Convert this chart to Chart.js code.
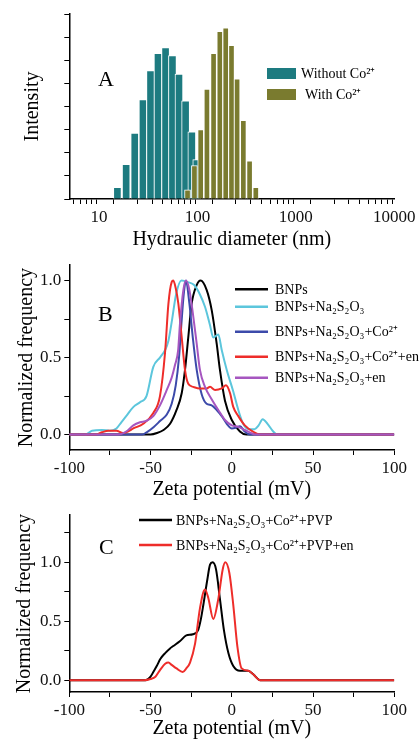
<!DOCTYPE html>
<html><head><meta charset="utf-8">
<script src="https://cdn.jsdelivr.net/npm/chart.js@4.4.1/dist/chart.umd.min.js"></script>
<style>
html,body{margin:0;padding:0;background:#fff;}
body{width:419px;height:741px;position:relative;overflow:hidden;}
canvas{position:absolute;left:0;}
</style></head><body>
<canvas id="cA" width="419" height="252" style="top:0px;width:419px;height:252px"></canvas>
<canvas id="cB" width="419" height="250" style="top:252px;width:419px;height:250px"></canvas>
<canvas id="cC" width="419" height="239" style="top:502px;width:419px;height:239px"></canvas>
<script>
// ---------- Panel A: DLS hydraulic diameter histograms ----------
const diamWithout = [15.4, 18.9, 23.1, 28.0, 33.4, 39.8, 47.5, 55.8, 65.0, 75.9, 87.8, 98.5];
const intensityWithout = [1.0, 3.0, 5.7, 8.6, 11.1, 12.6, 13.1, 12.4, 10.8, 8.5, 5.8, 3.4];
const diamWith = [79.4, 93.3, 108, 125, 146, 169, 194, 222, 253, 293, 339, 392];
const intensityWith = [0.8, 2.9, 6.0, 9.5, 12.6, 14.5, 14.8, 13.3, 10.4, 6.8, 3.3, 1.0];
const diamMajorTicks = [10, 100, 1000, 10000];
const diamMinorStart = [5, 6, 7, 8, 9];

// ---------- Panel B: zeta potential ----------
const bnpsX = [-100, -50, -46, -42, -38, -34, -30.8, -28.8, -26.8, -24.7, -21.6, -19.2, -15.5, -12.4, -9.3, -7.3, -4.2, 0, 5, 9, 100];
const bnpsY = [0, 0, 0.01, 0.03, 0.07, 0.16, 0.27, 0.42, 0.63, 0.85, 0.97, 1.0, 0.94, 0.81, 0.59, 0.42, 0.22, 0.095, 0.02, 0, 0];

const thioX = [-100, -90, -86, -80, -75, -71, -68, -65, -60.5, -56.5, -52.5, -48.3, -44.2, -41, -39, -37, -34.3, -31, -27, -23, -19.6, -16.5, -13.4, -11.4, -8.3, -6.2, -3.1, 0.9, 4, 7, 10.5, 14, 16.5, 19, 22, 25.5, 28, 100];
const thioY = [0, 0, 0.025, 0.03, 0.025, 0.04, 0.08, 0.12, 0.18, 0.21, 0.25, 0.44, 0.50, 0.55, 0.61, 0.73, 0.91, 1.0, 0.99, 0.97, 0.91, 0.83, 0.71, 0.63, 0.65, 0.55, 0.42, 0.28, 0.16, 0.07, 0.035, 0.035, 0.06, 0.10, 0.07, 0.02, 0, 0];

const coX = [-100, -55, -52.4, -48, -44, -40, -37, -34.5, -32.5, -31, -29.5, -28.2, -26.1, -24, -21.6, -18.5, -15.5, -12.4, -9.3, -6.2, -3.1, 0, 2.5, 5, 8, 11, 100];
const coY = [0, 0, 0.015, 0.05, 0.09, 0.13, 0.2, 0.32, 0.5, 0.72, 0.92, 1.0, 0.85, 0.63, 0.42, 0.26, 0.20, 0.19, 0.16, 0.12, 0.07, 0.04, 0.045, 0.055, 0.02, 0, 0];

const coEnX = [-100, -84, -80, -76, -71, -67, -64, -60.6, -54.5, -48.3, -44.2, -41.1, -39, -37, -36, -34.5, -32.9, -30.8, -28.8, -26.8, -23.7, -19.6, -15.5, -13.4, -10.3, -6.2, -3.6, -1.1, 0.9, 4, 8, 13, 17.5, 100];
const coEnY = [0, 0, 0.015, 0.025, 0.025, 0.01, 0.02, 0.04, 0.07, 0.14, 0.25, 0.53, 0.85, 0.99, 1.0, 0.95, 0.85, 0.63, 0.42, 0.33, 0.31, 0.30, 0.30, 0.31, 0.29, 0.30, 0.32, 0.27, 0.18, 0.12, 0.06, 0.02, 0, 0];

const enX = [-100, -70, -65, -60.6, -56.5, -52.4, -48.3, -44.2, -40, -37, -35, -33, -31.9, -29.8, -28.2, -26.1, -24, -21.6, -19.6, -16.5, -12.4, -8.3, -4.2, 0, 4, 8, 12, 14, 100];
const enY = [0, 0, 0.02, 0.06, 0.08, 0.09, 0.12, 0.19, 0.29, 0.37, 0.45, 0.55, 0.72, 0.94, 1.0, 0.94, 0.79, 0.59, 0.42, 0.31, 0.23, 0.16, 0.095, 0.06, 0.05, 0.03, 0.01, 0, 0];

// ---------- Panel C ----------
const pvpX = [-100, -53, -50, -48.3, -46.2, -44, -41, -38, -36, -32, -28, -24, -20.6, -19, -17.5, -15.1, -13.4, -11.8, -9.7, -7.3, -4.8, -2.1, 0.9, 5, 10, 13.2, 17.5, 100];
const pvpY = [0, 0, 0.03, 0.07, 0.12, 0.18, 0.23, 0.27, 0.29, 0.33, 0.38, 0.39, 0.43, 0.52, 0.64, 0.85, 0.98, 1.0, 0.94, 0.69, 0.42, 0.23, 0.12, 0.08, 0.08, 0.05, 0, 0];

const pvpEnX = [-100, -54, -50, -47, -44, -41, -39, -37, -34, -30.2, -28, -25.7, -22.6, -19.6, -16.5, -14.5, -11.4, -8.3, -5.6, -4, -1.5, 0.9, 3.4, 6.1, 10.2, 13.2, 17.4, 100];
const pvpEnY = [0, 0, 0.01, 0.03, 0.09, 0.14, 0.15, 0.13, 0.10, 0.07, 0.10, 0.15, 0.31, 0.61, 0.77, 0.70, 0.52, 0.69, 0.94, 1.0, 0.91, 0.64, 0.29, 0.10, 0.08, 0.05, 0, 0];

const zetaLabelTicks = [-100, -50, 0, 50, 100];

// ---------- shared setup ----------
const SERIF = '"Liberation Serif", "Times New Roman", serif';
Chart.defaults.font.family = SERIF;
Chart.defaults.color = '#111';
Chart.defaults.animation = false;

const pts = (xs, ys) => xs.map((x, i) => ({x: x, y: ys[i]}));

const annot = {
  id: 'annot',
  afterDraw(chart, args, o) {
    const ctx = chart.ctx;
    ctx.save();
    ctx.fillStyle = '#000';
    ctx.textAlign = 'left';
    ctx.textBaseline = 'middle';
    ctx.font = '22px ' + SERIF;
    ctx.fillText(o.letter, o.letterX, o.letterY);
    ctx.font = '14px ' + SERIF;
    o.items.forEach(it => {
      const ds = chart.data.datasets[it.ds];
      if (o.kind === 'box') {
        ctx.fillStyle = ds.backgroundColor;
        ctx.fillRect(o.x, it.y - 5.5, o.w, 11);
      } else {
        ctx.strokeStyle = ds.borderColor;
        ctx.lineWidth = 2.5;
        ctx.beginPath();
        ctx.moveTo(o.x, it.y);
        ctx.lineTo(o.x + o.w, it.y);
        ctx.stroke();
      }
      ctx.fillStyle = '#000';
      ctx.fillText(ds.label, it.tx, it.y + 1);
    });
    ctx.restore();
  }
};

function axisGrid() {
  return { drawOnChartArea: false, drawTicks: true, tickLength: 5, color: '#000', lineWidth: 1 };
}
function axisBorder() { return { display: true, color: '#000', width: 1.5 }; }
function titleOpt(text, pad) {
  return { display: true, text: text, color: '#000', font: { size: 20, family: SERIF }, padding: { top: pad, bottom: 0 } };
}

// ---------- Chart A ----------
const logTicks = [];
diamMinorStart.forEach(v => logTicks.push(v));
[10, 100, 1000].forEach(p => { for (let k = 1; k <= 9; k++) logTicks.push(k * p); });
logTicks.push(10000);

new Chart(document.getElementById('cA'), {
  type: 'bar',
  data: {
    datasets: [
      { label: 'Without Co²⁺', data: pts(diamWithout, intensityWithout), backgroundColor: '#1d7b80',
        borderColor: '#ffffff', borderWidth: 1, barThickness: 8, order: 2 },
      { label: 'With Co²⁺', data: pts(diamWith, intensityWith), backgroundColor: '#7a7b2f',
        borderColor: '#ffffff', borderWidth: 1, barThickness: 6, order: 1 }
    ]
  },
  options: {
    responsive: false, devicePixelRatio: 1,
    layout: { padding: { top: 14, right: 24.7, left: 0, bottom: 0 } },
    datasets: { bar: { grouped: false } },
    plugins: {
      legend: { display: false }, tooltip: { enabled: false },
      annot: { letter: 'A', letterX: 98, letterY: 80, kind: 'box', x: 267, w: 29,
        items: [ { ds: 0, y: 73.5, tx: 301 }, { ds: 1, y: 94.5, tx: 305 } ] }
    },
    scales: {
      x: {
        type: 'logarithmic', min: 5, max: 10000,
        afterBuildTicks: s => { s.ticks = logTicks.map(v => ({ value: v })); },
        ticks: { autoSkip: false, maxRotation: 0, padding: 3, color: '#111', font: { size: 17 },
          callback: v => diamMajorTicks.includes(v) ? String(v) : '' },
        grid: axisGrid(), border: axisBorder(),
        title: titleOpt('Hydraulic diameter (nm)', 0),
        afterFit: s => { s.height = 53; }
      },
      y: {
        min: 0, max: 16,
        ticks: { stepSize: 1, callback: () => '' },
        grid: axisGrid(), border: axisBorder(),
        title: titleOpt('Intensity', 21),
        afterFit: s => { s.width = 69.3; }
      }
    }
  },
  plugins: [annot]
});

// ---------- Line chart factory ----------
function zetaChart(id, datasets, yMax, yTicks, padTop, xHeight, yTitlePad, annotOpts) {
  return new Chart(document.getElementById(id), {
    type: 'line',
    data: { datasets: datasets.map((d, i) => ({
      label: d.label, data: pts(d.xs, d.ys), borderColor: d.color, backgroundColor: d.color,
      borderWidth: 2, pointRadius: 0, fill: false, cubicInterpolationMode: 'monotone',
      order: datasets.length - i })) },
    options: {
      responsive: false, devicePixelRatio: 1,
      layout: { padding: { top: padTop, right: 24.7, left: 0, bottom: 0 } },
      plugins: { legend: { display: false }, tooltip: { enabled: false }, annot: annotOpts },
      scales: {
        x: {
          type: 'linear', min: -100, max: 100,
          ticks: { stepSize: 25, autoSkip: false, maxRotation: 0, padding: 3, color: '#111', font: { size: 17 },
            callback: v => zetaLabelTicks.includes(v) ? String(v) : '' },
          grid: axisGrid(), border: axisBorder(),
          title: titleOpt('Zeta potential (mV)', 0),
          afterFit: s => { s.height = xHeight; }
        },
        y: {
          min: -0.1, max: yMax,
          afterBuildTicks: s => { s.ticks = yTicks.map(v => ({ value: v })); },
          ticks: { autoSkip: false, padding: 3, color: '#111', font: { size: 17 },
            callback: v => (Math.abs(v * 2 - Math.round(v * 2)) < 1e-6) ? v.toFixed(1) : '' },
          grid: axisGrid(), border: axisBorder(),
          title: titleOpt('Normalized frequency', yTitlePad),
          afterFit: s => { s.width = 69.3; }
        }
      }
    },
    plugins: [annot]
  });
}

zetaChart('cB', [
  { label: 'BNPs', xs: bnpsX, ys: bnpsY, color: '#000000' },
  { label: 'BNPs+Na₂S₂O₃', xs: thioX, ys: thioY, color: '#5cc6dc' },
  { label: 'BNPs+Na₂S₂O₃+Co²⁺', xs: coX, ys: coY, color: '#3c4aaa' },
  { label: 'BNPs+Na₂S₂O₃+Co²⁺+en', xs: coEnX, ys: coEnY, color: '#ee2d2a' },
  { label: 'BNPs+Na₂S₂O₃+en', xs: enX, ys: enY, color: '#a656c0' }
], 1.1, [0, 0.25, 0.5, 0.75, 1.0], 13, 52, 15, {
  letter: 'B', letterX: 98, letterY: 63, kind: 'line', x: 235, w: 33,
  items: [ { ds: 0, y: 37.3, tx: 275 }, { ds: 1, y: 54.7, tx: 275 }, { ds: 2, y: 79.7, tx: 275 },
           { ds: 3, y: 104.7, tx: 275 }, { ds: 4, y: 125.7, tx: 275 } ]
});

zetaChart('cC', [
  { label: 'BNPs+Na₂S₂O₃+Co²⁺+PVP', xs: pvpX, ys: pvpY, color: '#000000' },
  { label: 'BNPs+Na₂S₂O₃+Co²⁺+PVP+en', xs: pvpEnX, ys: pvpEnY, color: '#ee2d2a' }
], 1.4, [0, 0.25, 0.5, 0.75, 1.0, 1.25], 6.3, 49, 13, {
  letter: 'C', letterX: 99, letterY: 46, kind: 'line', x: 139, w: 33,
  items: [ { ds: 0, y: 18, tx: 176 }, { ds: 1, y: 43, tx: 176 } ]
});
</script>
</body></html>
